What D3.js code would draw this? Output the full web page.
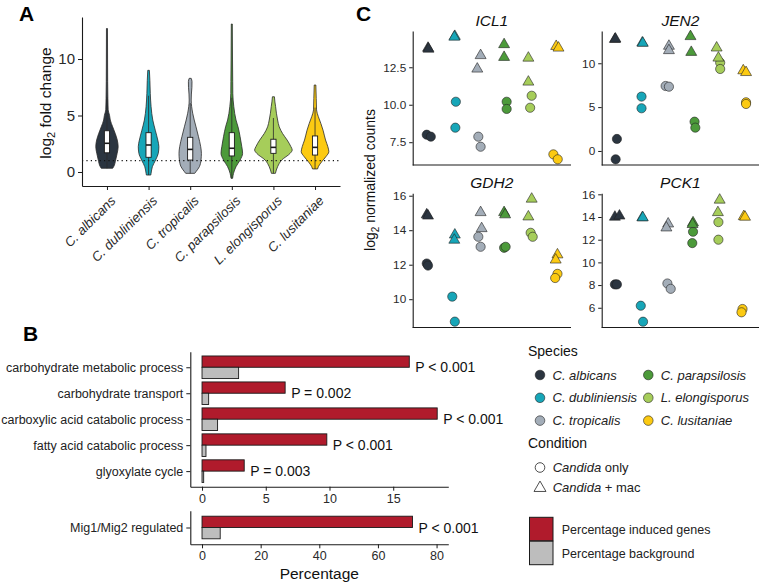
<!DOCTYPE html>
<html><head><meta charset="utf-8">
<script src="https://cdn.jsdelivr.net/npm/d3@7"></script>
<style>
body{margin:0;background:#fff}
svg{display:block}
text{font-family:"Liberation Sans",Arial,Helvetica,sans-serif}
</style>
</head><body>
<svg id="chart" width="760" height="584"></svg>
<script>
// ---------------- DATA ----------------
const species = ["C. albicans","C. dubliniensis","C. tropicalis","C. parapsilosis","L. elongisporus","C. lusitaniae"];
const speciesColors = ["#2b3540","#17a6b8","#a3adb8","#4c9a3a","#a6cd5a","#fcca12"];

// Panel A: violin density profiles [log2 fold change, relative density]
const violinAlbicans = [[12.7,.025],[10,.03],[8,.035],[6.5,.045],[5.5,.06],[5.0,.13],[4.6,.165],[4.0,.285],[3.4,.415],[2.83,.515],[2.24,.56],[1.65,.51],[1.06,.435],[0.47,.335],[0.33,.285]];
const violinDubliniensis = [[9.0,.04],[8.1,.065],[6.96,.085],[5.78,.125],[4.6,.21],[3.7,.335],[2.83,.46],[2.24,.515],[1.65,.485],[1.06,.35],[0.47,.19],[-0.12,.125],[-0.27,.11]];
const violinTropicalis = [[8.29,.05],[8.0,.09],[7.5,.085],[6.9,.06],[6.37,.05],[5.2,.125],[4.0,.29],[3.12,.415],[2.24,.525],[1.65,.56],[1.06,.54],[0.47,.46],[0.03,.29],[-0.12,.225]];
const violinParapsilosis = [[13.1,.025],[10,.035],[8,.045],[6.96,.05],[5.78,.1],[4.6,.21],[4.0,.31],[3.12,.415],[2.24,.5],[1.65,.54],[1.06,.415],[0.47,.21],[-0.12,.085],[-0.56,.04]];
const violinElongisporus = [[6.66,.05],[6.2,.075],[5.78,.11],[5.2,.15],[4.6,.21],[4.0,.29],[3.4,.46],[2.83,.685],[2.24,.875],[1.95,.94],[1.65,.835],[1.06,.415],[0.47,.21],[-0.12,.1]];
const violinLusitaniae = [[7.7,.04],[6.5,.06],[5.5,.075],[4.9,.165],[4.3,.29],[3.7,.4],[2.83,.525],[2.24,.64],[1.8,.69],[1.35,.54],[0.91,.335],[0.47,.165],[0.27,.125]];
const violins = [violinAlbicans,violinDubliniensis,violinTropicalis,violinParapsilosis,violinElongisporus,violinLusitaniae];
const boxQ1 = [1.7,1.3,1.06,1.42,1.65,1.5];
const boxMedian = [2.54,2.39,2.0,2.1,2.18,2.18];
const boxQ3 = [3.65,3.48,3.07,3.48,2.9,3.19];
const whiskerLow = [0.33,-0.27,-0.12,-0.56,-0.12,0.27];
const whiskerHigh = [6.6,6.75,6.1,6.57,4.78,5.7];
const foldThreshold = 1;
const foldDomain = [-1.24, 13.72];
const foldTicks = [0,5,10];

// Panel B
const goTerms = ["carbohydrate metabolic process","carbohydrate transport","carboxylic acid catabolic process","fatty acid catabolic process","glyoxylate cycle"];
const goInduced = [16.26,6.52,18.45,9.79,3.31];
const goBackground = [2.87,0.52,1.22,0.31,0.13];
const goP = ["P < 0.001","P = 0.002","P < 0.001","P < 0.001","P = 0.003"];
const goDomain = [-0.92,19.32];
const goTicks = [0,5,10,15];
const migTerms = ["Mig1/Mig2 regulated"];
const migInduced = [71.8];
const migBackground = [6.2];
const migP = ["P < 0.001"];
const migDomain = [-4,84];
const migTicks = [0,20,40,60,80];
const barLegend = ["Percentage induced genes","Percentage background"];

// Panel C: [species index, log2 normalized count, jitter]
const genes = ["ICL1","JEN2","GDH2","PCK1"];
const geneDomains = [[5.98,14.92],[-1.6,13.68],[8.36,16.14],[4.26,16.09]];
const geneTicks = [[7.5,10,12.5],[0,5,10],[10,12,14,16],[6,8,10,12,14,16]];
const icl1Only = [[0,8.0,-0.05],[0,7.87,0.11],[1,10.2,0.09],[1,8.47,0.07],[2,7.87,-0.03],[2,7.2,0.06],[3,10.2,0.08],[3,9.72,0.08],[4,10.6,0.06],[4,9.8,0],[5,6.69,-0.09],[5,6.36,0.08]];
const icl1Mac = [[0,13.78,0],[0,13.72,0.02],[1,14.57,0.05],[1,14.52,0.03],[2,13.29,0.06],[2,12.39,-0.07],[3,14.02,-0.02],[3,13.17,-0.02],[4,13.12,-0.07],[4,11.52,-0.07],[5,13.9,0.02],[5,13.79,0.11]];
const jen2Only = [[0,1.37,0],[0,-0.95,-0.05],[1,6.2,-0.03],[1,4.87,-0.03],[2,7.41,-0.08],[2,7.33,0.05],[3,3.34,0.06],[3,2.66,0.09],[4,10.07,0.07],[4,9.35,0.07],[5,5.55,0.09],[5,5.36,0.09]];
const jen2Mac = [[0,12.74,-0.08],[0,12.78,-0.06],[1,12.33,0],[1,12.3,0.02],[2,11.96,0.05],[2,11.46,0.05],[3,13.06,-0.1],[3,11.26,-0.07],[4,11.76,-0.07],[4,10.61,0],[5,9.16,-0.02],[5,8.96,0.09]];
const gdh2Only = [[0,12.07,-0.05],[0,11.95,0],[1,10.15,-0.05],[1,8.7,0.05],[2,13.62,-0.03],[2,13.04,0.06],[3,12.98,-0.02],[3,13.04,0.04],[4,13.85,0.02],[4,13.62,0.1],[5,11.47,0.07],[5,11.23,-0.02]];
const gdh2Mac = [[0,14.9,-0.05],[0,14.83,0],[1,13.73,0.05],[1,13.43,0.03],[2,15.03,0.06],[2,14.1,0.1],[3,15.03,-0.02],[3,14.9,0.02],[4,15.81,0.06],[4,14.78,-0.07],[5,12.58,0.07],[5,12.28,0]];
const pck1Only = [[0,8.06,-0.08],[0,8.06,0],[1,6.18,-0.06],[1,4.77,0.03],[2,8.14,-0.01],[2,7.67,0.12],[3,12.7,0],[3,11.7,-0.03],[4,13.55,0],[4,12.0,0],[5,5.89,-0.05],[5,5.6,-0.09]];
const pck1Mac = [[0,14.0,-0.08],[0,14.1,0.1],[1,13.95,0],[1,13.95,0.02],[2,13.4,0.02],[2,13.05,-0.05],[3,13.5,0],[3,13.35,-0.02],[4,15.5,0.05],[4,14.4,-0.02],[5,14.05,0],[5,14.0,0.05]];
const geneOnly = [icl1Only,jen2Only,gdh2Only,pck1Only];
const geneMac = [icl1Mac,jen2Mac,gdh2Mac,pck1Mac];
const conditionLabels = [["Candida"," only"],["Candida"," + mac"]];

// ---------------- DRAW ----------------
const svg = d3.select("#chart");
const FONT = '"Liberation Sans",Arial,Helvetica,sans-serif';
const INK = "#1a1a1a", TXT = "#2a2a2a";
const RED = "#b01b2c", GREY = "#bdbdbd";

function styleAxis(g, fs) {
  g.attr("font-family", FONT).attr("font-size", fs);
  g.selectAll(".domain").attr("stroke", INK).attr("stroke-width", 1.1);
  g.selectAll(".tick line").attr("stroke", INK).attr("stroke-width", 1);
  g.selectAll(".tick text").attr("fill", TXT);
}

function panelLabel(t, x, y) {
  svg.append("text").attr("x", x).attr("y", y).text(t)
    .attr("font-weight", "bold").attr("font-size", 21).attr("fill", "#000");
}
panelLabel("A", 19, 21);
panelLabel("B", 23, 341);
panelLabel("C", 356, 21);

// ===== Panel A =====
const ax = d3.scalePoint().domain(species).range([82, 340]).padding(0.6);
const ay = d3.scaleLinear().domain(foldDomain).range([186, 17]);
const aw = d3.scaleLinear().domain([0, 1]).range([0, 20]);
const gA = svg.append("g");

const violinArea = (cx) => d3.area()
  .y(d => ay(d[0]))
  .x0(d => cx - aw(d[1]))
  .x1(d => cx + aw(d[1]))
  .curve(d3.curveMonotoneY);

species.forEach((s, i) => {
  const cx = ax(s);
  gA.append("path").attr("d", violinArea(cx)(violins[i]))
    .attr("fill", speciesColors[i]).attr("stroke", "#2a2a2a").attr("stroke-width", 0.8);
});
// dotted threshold line
gA.append("line").attr("x1", 82).attr("x2", 340)
  .attr("y1", ay(foldThreshold)).attr("y2", ay(foldThreshold))
  .attr("stroke", "#111").attr("stroke-width", 1.2).attr("stroke-dasharray", "1.2,3.2");
// boxes
species.forEach((s, i) => {
  const cx = ax(s), bw = 2.6;
  gA.append("line").attr("x1", cx).attr("x2", cx)
    .attr("y1", ay(whiskerLow[i])).attr("y2", ay(whiskerHigh[i]))
    .attr("stroke", "#2a2a2a").attr("stroke-width", 0.8);
  gA.append("rect").attr("x", cx - bw).attr("width", bw * 2)
    .attr("y", ay(boxQ3[i])).attr("height", ay(boxQ1[i]) - ay(boxQ3[i]))
    .attr("fill", "#fff").attr("stroke", "#1a1a1a").attr("stroke-width", 0.9);
  gA.append("line").attr("x1", cx - bw).attr("x2", cx + bw)
    .attr("y1", ay(boxMedian[i])).attr("y2", ay(boxMedian[i]))
    .attr("stroke", "#1a1a1a").attr("stroke-width", 1.6);
});
const aY = gA.append("g").attr("transform", "translate(82,0)")
  .call(d3.axisLeft(ay).tickValues(foldTicks).tickSize(4).tickSizeOuter(0).tickPadding(3));
styleAxis(aY, 15);
const aX = gA.append("g").attr("transform", "translate(0,186)")
  .call(d3.axisBottom(ax).tickSize(4).tickSizeOuter(0).tickFormat(""));
styleAxis(aX, 13);
species.forEach((s, i) => {
  gA.append("text").attr("transform", `translate(${ax(s) + 3},${195}) rotate(-45)`)
    .attr("text-anchor", "end").attr("dy", "0.7em")
    .attr("font-size", 13.3).attr("font-style", "italic").attr("fill", TXT).text(s);
});
const aTitle = gA.append("text").attr("transform", "translate(51,103) rotate(-90)")
  .attr("text-anchor", "middle").attr("font-size", 15.5).attr("fill", "#111");
aTitle.append("tspan").text("log");
aTitle.append("tspan").attr("font-size", 11).attr("dy", 4).text("2");
aTitle.append("tspan").attr("dy", -4).text(" fold change");

// ===== Panel B =====
const gB = svg.append("g");
const BAR_H = 11.3;
function barPanel(terms, induced, background, pvals, domain, ticks, yTop, yBot) {
  const bx = d3.scaleLinear().domain(domain).range([190.3, 448.3]);
  const by = d3.scalePoint().domain(terms).range([yTop, yBot]).padding(0.6);
  terms.forEach((t, i) => {
    const cy = by(t);
    gB.append("rect").attr("x", bx(0)).attr("y", cy - BAR_H)
      .attr("width", bx(induced[i]) - bx(0)).attr("height", BAR_H)
      .attr("fill", RED).attr("stroke", "#1a1a1a").attr("stroke-width", 0.9);
    gB.append("rect").attr("x", bx(0)).attr("y", cy)
      .attr("width", bx(background[i]) - bx(0)).attr("height", BAR_H)
      .attr("fill", GREY).attr("stroke", "#1a1a1a").attr("stroke-width", 0.9);
    gB.append("text").attr("x", bx(induced[i]) + 6).attr("y", cy)
      .attr("dy", "0.36em").attr("font-size", 14).attr("fill", "#111").text(pvals[i]);
  });
  const gy = gB.append("g").attr("transform", "translate(190.3,0)")
    .call(d3.axisLeft(by).tickSize(4).tickSizeOuter(0).tickPadding(3));
  styleAxis(gy, 12.5);
  gy.selectAll(".tick text").attr("fill", "#222");
  const gx = gB.append("g").attr("transform", `translate(0,${yBot})`)
    .call(d3.axisBottom(bx).tickValues(ticks).tickSize(4).tickSizeOuter(0).tickPadding(3));
  styleAxis(gx, 12.5);
}
barPanel(goTerms, goInduced, goBackground, goP, goDomain, goTicks, 351.7, 486.7);
barPanel(migTerms, migInduced, migBackground, migP, migDomain, migTicks, 510.7, 544.3);
gB.append("text").attr("x", 319.3).attr("y", 579).attr("text-anchor", "middle")
  .attr("font-size", 15.5).attr("fill", "#111").text("Percentage");

// ===== Panel C =====
const gC = svg.append("g");
const cols = [[412.7, 571], [601.7, 759]];
const rows = [[31, 165], [193.3, 327.5]];
const triSym = d3.symbol().type(d3.symbolTriangle).size(52);
genes.forEach((gname, gi) => {
  const [x0, x1] = cols[gi % 2];
  const [y0, y1] = rows[Math.floor(gi / 2)];
  const cx = d3.scalePoint().domain(species).range([x0, x1]).padding(0.6);
  const cy = d3.scaleLinear().domain(geneDomains[gi]).range([y1, y0]);
  const step = cx.step();
  const g = gC.append("g");
  const gy = g.append("g").attr("transform", `translate(${x0},0)`)
    .call(d3.axisLeft(cy).tickValues(geneTicks[gi]).tickSize(3.5).tickSizeOuter(0).tickPadding(3)
      .tickFormat(gi === 0 ? d3.format(".1f") : d3.format("d")));
  styleAxis(gy, 11.8);
  g.append("line").attr("x1", x0).attr("x2", x1).attr("y1", y1).attr("y2", y1)
    .attr("stroke", INK).attr("stroke-width", 1.1);
  g.append("text").attr("x", (x0 + x1) / 2).attr("y", y0 - 11).attr("dy", "0.36em")
    .attr("text-anchor", "middle").attr("font-size", 15.5).attr("font-style", "italic")
    .attr("fill", "#111").text(gname);
  geneOnly[gi].forEach(d => {
    g.append("circle").attr("cx", cx(species[d[0]]) + d[2] * step).attr("cy", cy(d[1]))
      .attr("r", 4.6).attr("fill", speciesColors[d[0]]).attr("stroke", "#222").attr("stroke-width", 0.6);
  });
  geneMac[gi].forEach(d => {
    g.append("path").attr("d", triSym)
      .attr("transform", `translate(${cx(species[d[0]]) + d[2] * step},${cy(d[1])})`)
      .attr("fill", speciesColors[d[0]]).attr("stroke", "#222").attr("stroke-width", 0.6);
  });
});
const cTitle = gC.append("text").attr("transform", "translate(375,180) rotate(-90)")
  .attr("text-anchor", "middle").attr("font-size", 14).attr("fill", "#111");
cTitle.append("tspan").text("log");
cTitle.append("tspan").attr("font-size", 10).attr("dy", 4).text("2");
cTitle.append("tspan").attr("dy", -4).text(" normalized counts");

// ===== Legends =====
const gL = svg.append("g");
gL.append("text").attr("x", 528).attr("y", 351).attr("dy", "0.36em")
  .attr("font-size", 14).attr("fill", "#111").text("Species");
species.forEach((s, i) => {
  const col = Math.floor(i / 3), row = i % 3;
  const x = col === 0 ? 540 : 648.3;
  const y = 375 + row * 22.8;
  gL.append("circle").attr("cx", x).attr("cy", y).attr("r", 4.8)
    .attr("fill", speciesColors[i]).attr("stroke", "#222").attr("stroke-width", 0.6);
  gL.append("text").attr("x", x + 12.5).attr("y", y).attr("dy", "0.36em")
    .attr("font-size", 13).attr("font-style", "italic").attr("fill", "#222").text(s);
});
gL.append("text").attr("x", 528).attr("y", 443).attr("dy", "0.36em")
  .attr("font-size", 14).attr("fill", "#111").text("Condition");
conditionLabels.forEach((lab, i) => {
  const y = 467.5 + i * 20;
  if (i === 0) {
    gL.append("circle").attr("cx", 540).attr("cy", y).attr("r", 4.8)
      .attr("fill", "none").attr("stroke", "#222").attr("stroke-width", 0.8);
  } else {
    gL.append("path").attr("d", d3.symbol().type(d3.symbolTriangle).size(62))
      .attr("transform", `translate(540,${y + 0.5})`)
      .attr("fill", "none").attr("stroke", "#222").attr("stroke-width", 0.8);
  }
  const t = gL.append("text").attr("x", 552.7).attr("y", y).attr("dy", "0.36em")
    .attr("font-size", 13).attr("fill", "#222");
  t.append("tspan").attr("font-style", "italic").text(lab[0]);
  t.append("tspan").text(lab[1]);
});
[RED, GREY].forEach((c, i) => {
  const y = 517.3 + i * 23.9;
  gL.append("rect").attr("x", 529.5).attr("y", y).attr("width", 23.5).attr("height", 23.5)
    .attr("fill", c).attr("stroke", "#1a1a1a").attr("stroke-width", 1);
  gL.append("text").attr("x", 561.7).attr("y", y + 12).attr("dy", "0.36em")
    .attr("font-size", 12.5).attr("fill", "#222").text(barLegend[i]);
});
</script>
</body></html>
